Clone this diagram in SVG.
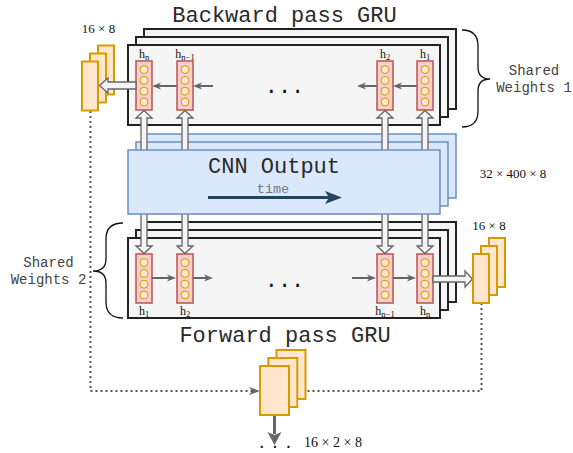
<svg xmlns="http://www.w3.org/2000/svg" xmlns:xlink="http://www.w3.org/1999/xlink" width="573" height="453" viewBox="0 0 573 453">
<style>
.gru{fill:#f5f5f5;stroke:#222;stroke-width:2}
.cnn{fill:#dae8fc;stroke:#6c8ebf;stroke-width:1.5}
.org{fill:#ffe6cc;stroke:#d79b00;stroke-width:2}
.cellr{fill:#f8cecc;stroke:#b85450;stroke-width:1.5}
.circ{fill:#ffe6cc;stroke:#d79b00;stroke-width:1}
.hol{fill:#f4f4f4;stroke:#666;stroke-width:1.3}
.con{stroke:#666;stroke-width:2;fill:none}
.dot{stroke:#555;stroke-width:2;fill:none;stroke-dasharray:2 3}
.mono{font-family:"Liberation Mono","Courier New",monospace}
.ser{font-family:"Liberation Serif","Times New Roman",serif;fill:#111}
.title{font-size:22px;fill:#2a2a2a;text-anchor:middle}
.sw{font-size:14px;fill:#444;text-anchor:middle}
.hl{font-size:12px;text-anchor:middle}
.sub{font-size:8.5px}
.dim{font-size:13px;text-anchor:middle}
.brace{fill:none;stroke:#111;stroke-width:1.3}
</style>
<defs>
<g id="cellShape">
<rect class="cellr" x="0" y="0" width="16" height="49"/>
<circle class="circ" cx="8" cy="8.6" r="4"/>
<circle class="circ" cx="8" cy="19.4" r="4"/>
<circle class="circ" cx="8" cy="30.2" r="4"/>
<circle class="circ" cx="8" cy="41" r="4"/>
</g>
<marker id="ah" markerWidth="10" markerHeight="8" refX="4" refY="4" orient="auto" markerUnits="userSpaceOnUse">
<path d="M0,0.5 L9,4 L0,7.5 L2.5,4 Z" fill="#666"/>
</marker>
<marker id="ahd" markerWidth="12" markerHeight="10" refX="5" refY="5" orient="auto" markerUnits="userSpaceOnUse">
<path d="M0,1 L11,5 L0,9 L3,5 Z" fill="#666"/>
</marker>
</defs>

<!-- Backward GRU -->
<g id="backward-gru">
<text class="mono title" x="284.5" y="22">Backward pass GRU</text>
<rect class="gru" x="144" y="29" width="312" height="80"/>
<rect class="gru" x="136" y="37" width="312" height="80"/>
<rect class="gru" x="128" y="45" width="312" height="80"/>
<text class="mono" x="284.5" y="93" font-size="22" text-anchor="middle" fill="#111">...</text>
</g>
<g id="b-hn"><use xlink:href="#cellShape" x="136" y="61"/><text class="ser hl" x="144" y="58">h<tspan class="sub" dy="1.5">n</tspan></text></g>
<g id="b-hn1"><use xlink:href="#cellShape" x="177" y="61"/><text class="ser hl" x="185" y="58">h<tspan class="sub" dy="1.5">n−1</tspan></text></g>
<g id="b-h2"><use xlink:href="#cellShape" x="377" y="61"/><text class="ser hl" x="385" y="58">h<tspan class="sub" dy="1.5">2</tspan></text></g>
<g id="b-h1"><use xlink:href="#cellShape" x="417" y="61"/><text class="ser hl" x="425" y="58">h<tspan class="sub" dy="1.5">1</tspan></text></g>

<!-- Forward GRU -->
<g id="forward-gru">
<rect class="gru" x="144" y="222" width="312" height="80"/>
<rect class="gru" x="136" y="230" width="312" height="80"/>
<rect class="gru" x="128" y="238" width="312" height="80"/>
<text class="mono" x="284.5" y="287" font-size="22" text-anchor="middle" fill="#111">...</text>
<text class="mono title" x="285" y="341.5">Forward pass GRU</text>
</g>
<g id="f-h1"><use xlink:href="#cellShape" x="136" y="254"/><text class="ser hl" x="144" y="315">h<tspan class="sub" dy="1.5">1</tspan></text></g>
<g id="f-h2"><use xlink:href="#cellShape" x="177" y="254"/><text class="ser hl" x="185" y="315">h<tspan class="sub" dy="1.5">2</tspan></text></g>
<g id="f-hn1"><use xlink:href="#cellShape" x="377" y="254"/><text class="ser hl" x="385" y="315">h<tspan class="sub" dy="1.5">n−1</tspan></text></g>
<g id="f-hn"><use xlink:href="#cellShape" x="417" y="254"/><text class="ser hl" x="425" y="315">h<tspan class="sub" dy="1.5">n</tspan></text></g>

<!-- CNN back layers -->
<g id="cnn-back">
<rect class="cnn" x="144" y="134" width="312" height="64"/>
<rect class="cnn" x="136" y="142" width="312" height="64"/>
</g>

<!-- Connectors -->
<g id="connectors">
<path class="hol" d="M141,152 L141,118 L136,118 L144,110.5 L152,118 L147,118 L147,152 Z"/>
<path class="hol" d="M182,152 L182,118 L177,118 L185,110.5 L193,118 L188,118 L188,152 Z"/>
<path class="hol" d="M382,152 L382,118 L377,118 L385,110.5 L393,118 L388,118 L388,152 Z"/>
<path class="hol" d="M422,152 L422,118 L417,118 L425,110.5 L433,118 L428,118 L428,152 Z"/>
<path class="hol" d="M141,212 L141,246 L136,246 L144,253.5 L152,246 L147,246 L147,212 Z"/>
<path class="hol" d="M182,212 L182,246 L177,246 L185,253.5 L193,246 L188,246 L188,212 Z"/>
<path class="hol" d="M382,212 L382,246 L377,246 L385,253.5 L393,246 L388,246 L388,212 Z"/>
<path class="hol" d="M422,212 L422,246 L417,246 L425,253.5 L433,246 L428,246 L428,212 Z"/>
<line class="con" x1="417" y1="86" x2="398" y2="86" marker-end="url(#ah)"/>
<line class="con" x1="377" y1="86" x2="362" y2="86" marker-end="url(#ah)"/>
<line class="con" x1="213" y1="86" x2="198" y2="86" marker-end="url(#ah)"/>
<line class="con" x1="177" y1="86" x2="157" y2="86" marker-end="url(#ah)"/>
<line class="con" x1="152" y1="278" x2="171" y2="278" marker-end="url(#ah)"/>
<line class="con" x1="193" y1="278" x2="208" y2="278" marker-end="url(#ah)"/>
<line class="con" x1="352" y1="278" x2="371" y2="278" marker-end="url(#ah)"/>
<line class="con" x1="393" y1="278" x2="411" y2="278" marker-end="url(#ah)"/>
<path class="dot" d="M90.5,111 L90.5,391 L254,391" marker-end="url(#ahd)"/>
<path class="dot" d="M481.5,303 L481.5,391 L295,391" marker-end="url(#ahd)"/>
<line x1="274.5" y1="415" x2="274.5" y2="434" stroke="#666" stroke-width="3"/>
<path d="M267.5,432 L274.5,445 L281.5,432 L274.5,435 Z" fill="#666"/>
</g>

<!-- CNN front -->
<g id="cnn-output">
<rect class="cnn" x="128" y="150" width="312" height="64"/>
<text class="mono" x="274" y="173" font-size="22" text-anchor="middle" fill="#2a2a2a">CNN Output</text>
<text class="mono" x="273" y="193" font-size="13.5" text-anchor="middle" fill="#777">time</text>
<line x1="208" y1="197.5" x2="330" y2="197.5" stroke="#23445d" stroke-width="3"/>
<path d="M325,191 L342,197.5 L325,204 L329,197.5 Z" fill="#23445d"/>
<text class="ser dim" x="513" y="177.5">32 × 400 × 8</text>
</g>

<!-- Left output stack -->
<g id="stack-backward">
<rect class="org" x="98" y="45.5" width="16" height="49"/>
<rect class="org" x="90" y="53.5" width="16" height="49"/>
<rect class="org" x="82" y="61.5" width="16" height="49"/>
<text class="ser dim" x="98.5" y="33">16 × 8</text>
<path class="hol" d="M136,82 L108,82 L108,78 L99.5,85.5 L108,93 L108,89 L136,89 Z"/>
</g>

<!-- Right output stack -->
<g id="stack-forward">
<path class="hol" d="M433,276 L465,276 L465,271 L472.5,279 L465,287 L465,282 L433,282 Z"/>
<rect class="org" x="489" y="238" width="16" height="49"/>
<rect class="org" x="481" y="246" width="16" height="49"/>
<rect class="org" x="473" y="254" width="16" height="49"/>
<text class="ser dim" x="489" y="230">16 × 8</text>
</g>

<!-- Merged stack -->
<g id="stack-merged">
<rect class="org" x="276.5" y="350" width="29" height="49"/>
<rect class="org" x="268.3" y="358" width="29" height="49"/>
<rect class="org" x="260" y="366" width="29" height="49"/>
<text class="ser" x="333" y="446.5" font-size="14" text-anchor="middle">16 × 2 × 8</text>
<text class="mono" x="277.5" y="448" font-size="14" font-weight="bold" letter-spacing="5" text-anchor="middle" fill="#111">...</text>
</g>

<!-- Braces -->
<g id="shared-weights-1">
<path class="brace" d="M462,30 Q478,30 478,46 L478,67 Q478,79 490,79 Q478,79 478,91 L478,111 Q478,127 462,127"/>
<text class="mono sw" x="534" y="75">Shared</text>
<text class="mono sw" x="534" y="92">Weights 1</text>
</g>
<g id="shared-weights-2">
<path class="brace" d="M123,223 Q106,223 106,239 L106,259 Q106,271 93,271 Q106,271 106,283 L106,302 Q106,318 123,318"/>
<text class="mono sw" x="48.5" y="267">Shared</text>
<text class="mono sw" x="48.5" y="284">Weights 2</text>
</g>
</svg>
